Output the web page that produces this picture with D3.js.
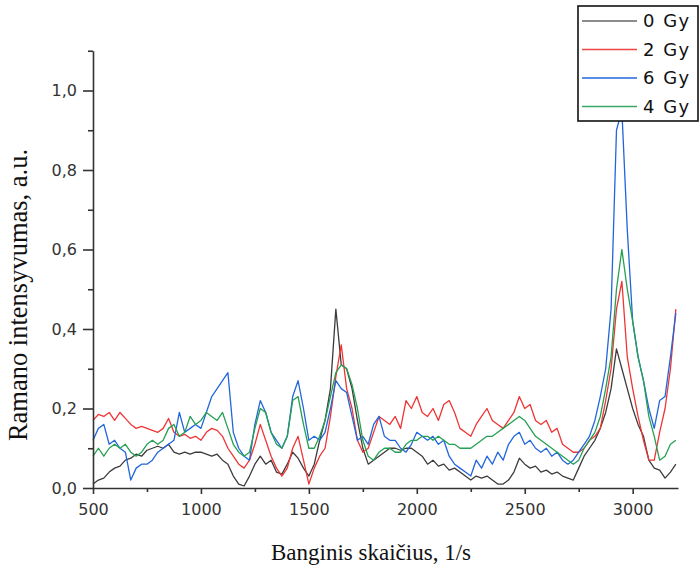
<!DOCTYPE html>
<html>
<head>
<meta charset="utf-8">
<script src="https://cdn.jsdelivr.net/npm/d3@7"></script>
<style>
  body { margin: 0; background: #fff; }
  svg { display: block; }
</style>
</head>
<body>
<div id="view"></div>
<script>
// wavenumber grid, 1/s
var wavenumbers = [
  500, 525, 550, 575, 600, 625, 650, 675, 700, 725,
  750, 775, 800, 825, 850, 875, 900, 925, 950, 975,
  1000, 1025, 1050, 1075, 1100, 1125, 1150, 1175, 1200, 1225,
  1250, 1275, 1300, 1325, 1350, 1375, 1400, 1425, 1450, 1475,
  1500, 1525, 1550, 1575, 1600, 1625, 1650, 1675, 1700, 1725,
  1750, 1775, 1800, 1825, 1850, 1875, 1900, 1925, 1950, 1975,
  2000, 2025, 2050, 2075, 2100, 2125, 2150, 2175, 2200, 2225,
  2250, 2275, 2300, 2325, 2350, 2375, 2400, 2425, 2450, 2475,
  2500, 2525, 2550, 2575, 2600, 2625, 2650, 2675, 2700, 2725,
  2750, 2775, 2800, 2825, 2850, 2875, 2900, 2925, 2950, 2975,
  3000, 3025, 3050, 3075, 3100, 3125, 3150, 3175, 3200
];

var gy0 = [
  0.010, 0.020, 0.025, 0.040, 0.050, 0.055, 0.070, 0.075, 0.085, 0.080,
  0.095, 0.100, 0.105, 0.100, 0.110, 0.090, 0.085, 0.090, 0.085, 0.090,
  0.090, 0.085, 0.080, 0.085, 0.070, 0.060, 0.030, 0.010, 0.005, 0.030,
  0.060, 0.080, 0.060, 0.070, 0.040, 0.035, 0.060, 0.090, 0.075, 0.050,
  0.030, 0.060, 0.120, 0.170, 0.250, 0.450, 0.310, 0.300, 0.250, 0.170,
  0.100, 0.060, 0.070, 0.080, 0.090, 0.100, 0.100, 0.095, 0.100, 0.100,
  0.090, 0.080, 0.060, 0.070, 0.055, 0.060, 0.045, 0.050, 0.040, 0.030,
  0.020, 0.030, 0.025, 0.030, 0.020, 0.010, 0.010, 0.020, 0.040, 0.075,
  0.060, 0.050, 0.055, 0.040, 0.045, 0.035, 0.040, 0.030, 0.025, 0.020,
  0.050, 0.080, 0.100, 0.120, 0.150, 0.190, 0.250, 0.350, 0.300, 0.250,
  0.200, 0.160, 0.130, 0.070, 0.050, 0.045, 0.025, 0.040, 0.060
];

var gy2 = [
  0.170, 0.185, 0.180, 0.190, 0.170, 0.190, 0.175, 0.160, 0.150, 0.155,
  0.150, 0.145, 0.140, 0.150, 0.175, 0.140, 0.130, 0.135, 0.125, 0.130,
  0.120, 0.140, 0.150, 0.145, 0.130, 0.100, 0.080, 0.060, 0.050, 0.070,
  0.110, 0.160, 0.120, 0.080, 0.050, 0.030, 0.050, 0.100, 0.130, 0.070,
  0.010, 0.050, 0.080, 0.100, 0.180, 0.280, 0.360, 0.250, 0.200, 0.120,
  0.090, 0.100, 0.140, 0.180, 0.170, 0.160, 0.180, 0.150, 0.220, 0.200,
  0.230, 0.190, 0.180, 0.200, 0.170, 0.210, 0.220, 0.190, 0.150, 0.140,
  0.130, 0.160, 0.180, 0.200, 0.170, 0.160, 0.150, 0.170, 0.190, 0.230,
  0.200, 0.210, 0.170, 0.160, 0.170, 0.140, 0.150, 0.110, 0.100, 0.090,
  0.090, 0.100, 0.120, 0.130, 0.150, 0.220, 0.300, 0.450, 0.520, 0.330,
  0.250, 0.180, 0.120, 0.070, 0.070, 0.140, 0.200, 0.300, 0.450
];

var gy6 = [
  0.120, 0.150, 0.160, 0.110, 0.120, 0.100, 0.090, 0.020, 0.050, 0.060,
  0.060, 0.070, 0.090, 0.100, 0.110, 0.120, 0.190, 0.140, 0.150, 0.160,
  0.150, 0.190, 0.230, 0.250, 0.270, 0.290, 0.140, 0.100, 0.080, 0.070,
  0.160, 0.220, 0.190, 0.140, 0.120, 0.100, 0.130, 0.230, 0.270, 0.200,
  0.120, 0.130, 0.120, 0.140, 0.200, 0.270, 0.250, 0.240, 0.180, 0.120,
  0.130, 0.110, 0.160, 0.180, 0.130, 0.120, 0.120, 0.100, 0.090, 0.110,
  0.140, 0.130, 0.120, 0.130, 0.110, 0.120, 0.080, 0.060, 0.050, 0.040,
  0.030, 0.070, 0.050, 0.080, 0.060, 0.090, 0.070, 0.110, 0.130, 0.140,
  0.110, 0.120, 0.100, 0.090, 0.100, 0.080, 0.090, 0.070, 0.060, 0.070,
  0.090, 0.110, 0.130, 0.170, 0.230, 0.300, 0.450, 0.900, 0.950, 0.650,
  0.420, 0.330, 0.270, 0.200, 0.150, 0.220, 0.230, 0.330, 0.440
];

var gy4 = [
  0.080, 0.100, 0.080, 0.100, 0.110, 0.100, 0.110, 0.090, 0.080, 0.090,
  0.110, 0.120, 0.110, 0.120, 0.150, 0.160, 0.130, 0.140, 0.180, 0.160,
  0.170, 0.190, 0.180, 0.170, 0.190, 0.150, 0.110, 0.090, 0.080, 0.090,
  0.150, 0.200, 0.190, 0.140, 0.110, 0.100, 0.130, 0.220, 0.230, 0.160,
  0.100, 0.100, 0.130, 0.170, 0.230, 0.290, 0.310, 0.300, 0.260, 0.200,
  0.120, 0.080, 0.070, 0.090, 0.100, 0.100, 0.090, 0.090, 0.110, 0.120,
  0.120, 0.130, 0.130, 0.120, 0.130, 0.120, 0.110, 0.110, 0.100, 0.100,
  0.100, 0.110, 0.120, 0.130, 0.130, 0.140, 0.150, 0.160, 0.170, 0.180,
  0.170, 0.150, 0.130, 0.120, 0.110, 0.100, 0.090, 0.080, 0.070, 0.060,
  0.070, 0.100, 0.120, 0.140, 0.180, 0.250, 0.330, 0.500, 0.600, 0.500,
  0.420, 0.330, 0.270, 0.180, 0.130, 0.070, 0.080, 0.110, 0.120
];

var seriesNames = ["0 Gy", "2 Gy", "6 Gy", "4 Gy"];
var seriesValues = [gy0, gy2, gy6, gy4];
var seriesColors = ["#3c3c3c", "#ee3535", "#2166dc", "#25a052"];
var legendLineColors = ["#666666", "#ee4444", "#2166dc", "#3aa865"];

var xMajorTicks = [500, 1000, 1500, 2000, 2500, 3000];
var xMinorTicks = [750, 1250, 1750, 2250, 2750];
var yMajorTicks = [0, 0.2, 0.4, 0.6, 0.8, 1.0];
var yMinorTicks = [0.1, 0.3, 0.5, 0.7, 0.9, 1.1];

var width = 699, height = 567;
var margin = {top: 50.75, right: 21, bottom: 79, left: 93};

var svg = d3.select("#view")
    .append("svg")
    .attr("width", width)
    .attr("height", height);

var x = d3.scaleLinear()
    .domain([500, 3210])
    .range([margin.left, width - margin.right]);

var y = d3.scaleLinear()
    .domain([0, 1.1])
    .range([height - margin.bottom, margin.top]);

var comma = function(d) { return d3.format(".1f")(d).replace(".", ","); };

// lines
var line = d3.line()
    .x(function(d) { return x(d[0]); })
    .y(function(d) { return y(d[1]); });

svg.append("g")
    .selectAll("path")
    .data(seriesValues)
    .enter().append("path")
    .attr("fill", "none")
    .attr("stroke", function(d, i) { return seriesColors[i]; })
    .attr("stroke-width", 1.3)
    .attr("stroke-linejoin", "round")
    .attr("d", function(vals) {
        return line(vals.map(function(v, i) { return [wavenumbers[i], v]; }));
    });

// x axis
var xAxis = svg.append("g")
    .attr("transform", "translate(0," + y(0) + ")")
    .call(d3.axisBottom(x)
        .tickValues(xMajorTicks)
        .tickSize(6)
        .tickSizeOuter(0)
        .tickPadding(10)
        .tickFormat(d3.format("d")));
xAxis.selectAll(".tick text")
    .attr("font-family", "DejaVu Sans")
    .attr("font-size", 16)
    .attr("fill", "#333");

svg.append("g")
    .attr("transform", "translate(0," + y(0) + ")")
    .call(d3.axisBottom(x).tickValues(xMinorTicks).tickSize(4).tickSizeOuter(0).tickFormat(""))
    .select(".domain").remove();

// y axis
var yAxis = svg.append("g")
    .attr("transform", "translate(" + x(500) + ",0)")
    .call(d3.axisLeft(y)
        .tickValues(yMajorTicks)
        .tickSize(10)
        .tickSizeOuter(0)
        .tickPadding(6)
        .tickFormat(comma));
yAxis.selectAll(".tick text")
    .attr("font-family", "DejaVu Sans")
    .attr("font-size", 16)
    .attr("fill", "#333");

svg.append("g")
    .attr("transform", "translate(" + x(500) + ",0)")
    .call(d3.axisLeft(y).tickValues(yMinorTicks).tickSize(5).tickSizeOuter(0).tickFormat(""))
    .select(".domain").remove();

svg.selectAll(".domain, .tick line")
    .attr("stroke", "#333")
    .attr("stroke-width", 1.6);

// axis titles
svg.append("text")
    .attr("x", 371)
    .attr("y", 560)
    .attr("text-anchor", "middle")
    .attr("font-family", "Liberation Serif")
    .attr("font-size", 23)
    .attr("fill", "#111")
    .text("Banginis skaičius, 1/s");

svg.append("text")
    .attr("transform", "translate(27,295) rotate(-90)")
    .attr("text-anchor", "middle")
    .attr("font-family", "Liberation Serif")
    .attr("font-size", 26.5)
    .attr("fill", "#111")
    .text("Ramano intensyvumas, a.u.");

// legend
var legend = svg.append("g").attr("class", "legend");

legend.append("rect")
    .attr("x", 578)
    .attr("y", 6)
    .attr("width", 120)
    .attr("height", 115)
    .attr("fill", "#fff")
    .attr("stroke", "#111")
    .attr("stroke-width", 1.6);

var items = legend.selectAll("g.item")
    .data(seriesNames)
    .enter().append("g")
    .attr("class", "item")
    .attr("transform", function(d, i) { return "translate(0," + (21 + i * 28.5) + ")"; });

items.append("line")
    .attr("x1", 582)
    .attr("x2", 637)
    .attr("stroke", function(d, i) { return legendLineColors[i]; })
    .attr("stroke-width", 1.3);

items.append("text")
    .attr("x", 643)
    .attr("dy", "0.36em")
    .attr("font-family", "DejaVu Sans")
    .attr("font-size", 18)
    .attr("letter-spacing", 1.5)
    .attr("fill", "#111")
    .text(function(d) { return d; });
</script>
</body>
</html>
